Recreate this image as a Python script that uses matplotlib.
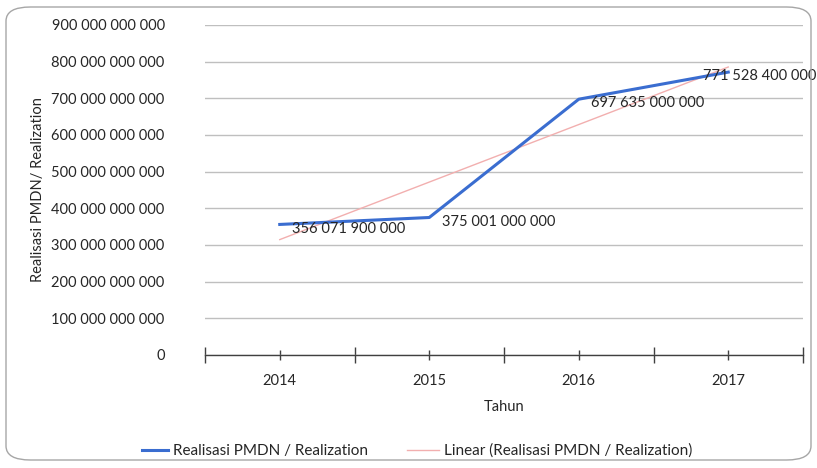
import numpy as np
import matplotlib
matplotlib.use("Agg")
import matplotlib.pyplot as plt
from matplotlib.patches import FancyBboxPatch
from matplotlib.ticker import FuncFormatter, MultipleLocator, FixedLocator

plt.rcParams["font.family"] = ["Lato", "DejaVu Sans"]

# data
years = ["2014", "2015", "2016", "2017"]
realisasi = [356071900000, 375001000000, 697635000000, 771528400000]
data_labels = ["356 071 900 000", "375 001 000 000", "697 635 000 000", "771 528 400 000"]

series_name = "Realisasi PMDN / Realization"
trend_name = "Linear (Realisasi PMDN / Realization)"

BLUE = "#3A6DD0"
PINK = "#F2AFAF"
GRID = "#BFBFBF"

fig = plt.figure(figsize=(8.17, 4.68), dpi=100)
ax = fig.add_axes([205 / 817, 1 - 355 / 468, 598 / 817, 330 / 468])

# rounded chart border
border = FancyBboxPatch((6 / 817, 8 / 468), 805 / 817, 453 / 468,
                        boxstyle="round,pad=0,rounding_size=0.03",
                        transform=fig.transFigure, facecolor="none",
                        edgecolor="#A6A6A6", linewidth=1.0)
fig.patches.append(border)

x = np.arange(len(years))
y = np.array(realisasi, dtype=float)

# linear trend line (least squares fit of the series)
slope, intercept = np.polyfit(x, y, 1)
trend, = ax.plot(x, slope * x + intercept, color=PINK, linewidth=1.0, label=trend_name, zorder=2)
main, = ax.plot(x, y, color=BLUE, linewidth=2.2, label=series_name, zorder=3)

for i, (xi, yi, lbl) in enumerate(zip(x, y, data_labels)):
    # excel pushes the last label back inside the chart area
    dx = 9 if i < len(x) - 1 else -18
    ax.annotate(lbl, (xi, yi), xytext=(dx, -3), textcoords="offset points",
                ha="left", va="center", fontsize=10.5, color="#262626", zorder=4)

ax.set_xlim(-0.5, 3.5)
ax.set_ylim(0, 900e9)
ax.yaxis.set_major_locator(MultipleLocator(100e9))

def fmt(v, pos):
    if v == 0:
        return "0"
    return f"{int(round(v)):,}".replace(",", " ")

ax.yaxis.set_major_formatter(FuncFormatter(fmt))
ax.grid(axis="y", color=GRID, linewidth=1.0)
ax.set_axisbelow(True)

for s in ["left", "right", "top"]:
    ax.spines[s].set_visible(False)
ax.spines["bottom"].set_color("#404040")
ax.spines["bottom"].set_linewidth(1.0)

ax.tick_params(axis="y", length=0, pad=29, labelsize=10.5, labelcolor="#262626")
ax.xaxis.set_major_locator(FixedLocator(x))
ax.set_xticklabels(years)
ax.xaxis.set_minor_locator(FixedLocator(np.arange(-0.5, 4.0, 1.0)))
ax.tick_params(axis="x", which="major", direction="inout", length=7, width=1.0,
               color="#404040", pad=10, labelsize=10.5, labelcolor="#262626")
ax.tick_params(axis="x", which="minor", direction="inout", length=12, width=1.0,
               color="#404040")

ax.set_xlabel("Tahun", fontsize=10.5, color="#262626", labelpad=9)
fig.text(38 / 817, 1 - 190 / 468, "Realisasi PMDN/ Realization", rotation=90,
         ha="center", va="center", fontsize=10.5, color="#262626")

# two separate legend entries placed like excel's bottom legend
leg1 = fig.legend([main], [series_name], loc="center left",
                  bbox_to_anchor=(142 / 817, 1 - 451 / 468), frameon=False,
                  fontsize=11, handlelength=1.7, handletextpad=0.3,
                  borderpad=0, borderaxespad=0, labelcolor="#262626")
leg2 = fig.legend([trend], [trend_name], loc="center left",
                  bbox_to_anchor=(407 / 817, 1 - 451 / 468), frameon=False,
                  fontsize=11, handlelength=2.1, handletextpad=0.3,
                  borderpad=0, borderaxespad=0, labelcolor="#262626")

fig.savefig("out.png", dpi=100)
